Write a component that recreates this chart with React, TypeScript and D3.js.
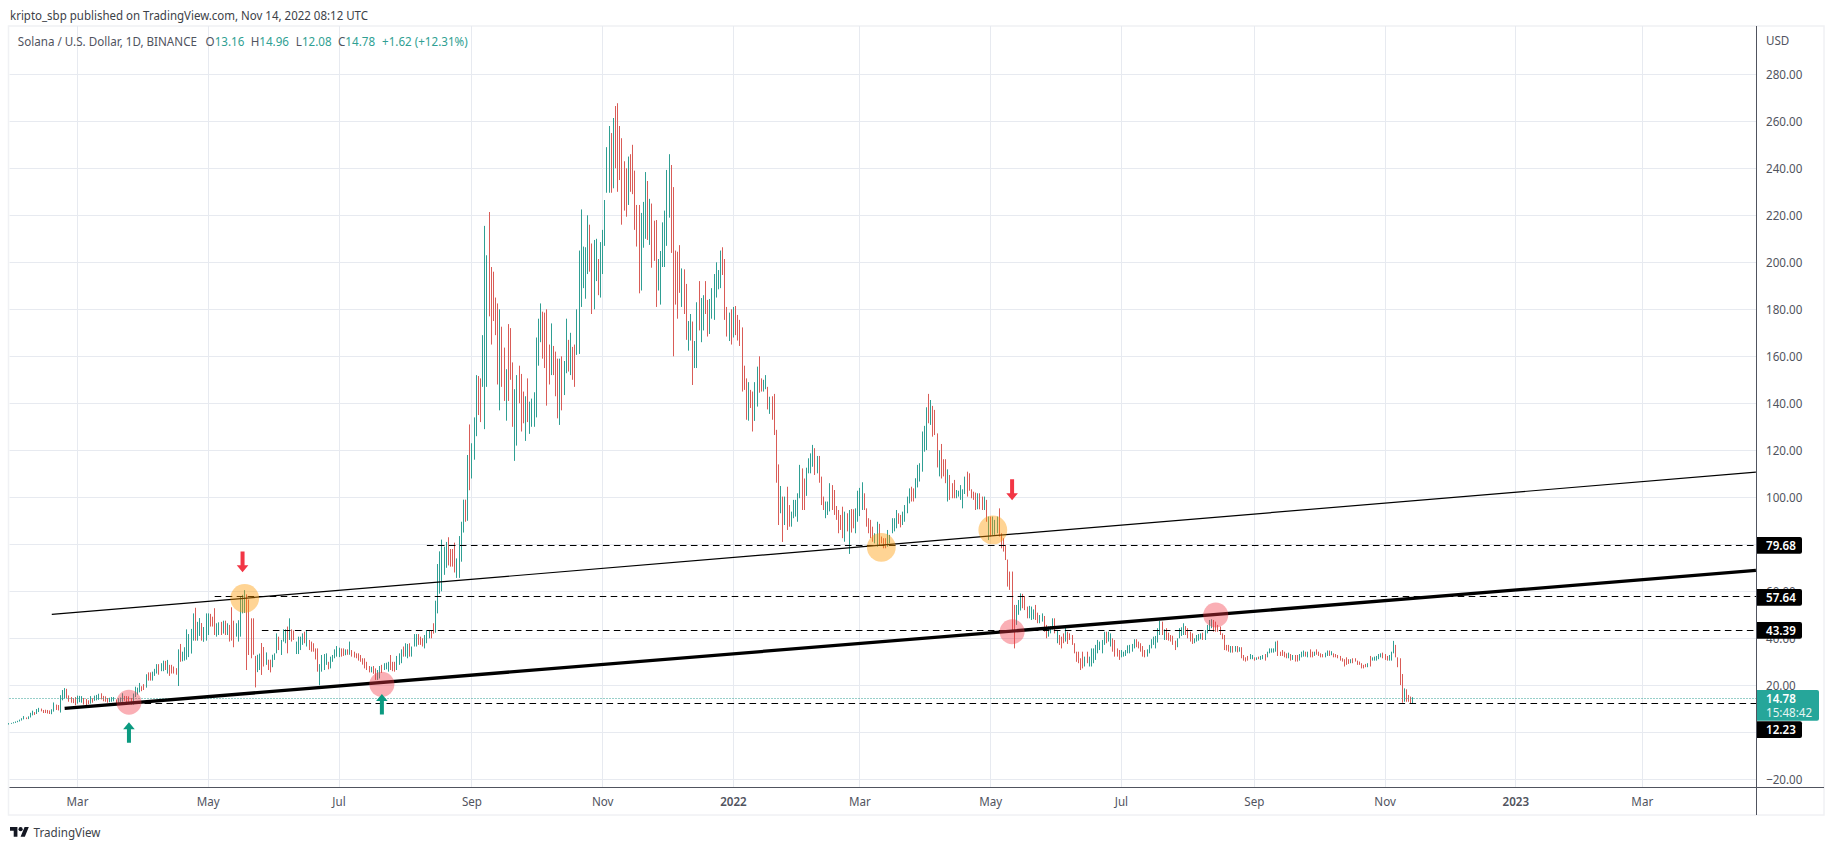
import React from "react";
import * as d3 from "d3";

// ---------- daily bars, one group per month: highs, lows, direction (u = close above open) ----------
const feb21H = [3.9,4.0,4.3,4.6,4.9,5.4,6.0,6.9,6.3,6.8,8.3,9.2,8.6,9.9,10.4,10.1,9.5,9.6,9.5,9.3,9.8,12.7,11.8,11.6,15.8,18.0,18.8,18.5,15.7,15.0,14.5,15.0];
const feb21L = [3.3,3.6,3.8,4.0,4.3,4.6,5.0,5.5,5.6,5.6,6.3,7.2,7.4,7.8,8.6,8.9,8.2,8.2,8.0,7.8,7.7,8.8,9.5,9.3,8.4,13.6,14.4,14.5,13,12.6,12.4,11.5];
const feb21D = "uuuuuuuu d uuu d uu d dddd uu dd uuu ddddd";
const mar21H = [15.6,15.5,15.4,14.6,14.2,13.6,15.4,14.5,15.6,15.9,16.4,16.6,15.5,15.3,14.6,14.7,15.0,15.0,14.0,14.5,14.8,16.6,15.5,15.4,15.3,14.6,16.5,19.4,19.0,21.0,19.6];
const mar21L = [12.2,12.8,12.6,11.8,11.6,12.0,12.2,12.6,13.4,13.6,13.8,14,13.2,13.0,12.6,12.8,13,13.2,12.4,12.2,12.6,13,13.4,12.6,13,11.8,11.8,15,16,17,17.5];
const mar21D = "uuu ddd u d uuu dddd uuu d uuu dddd uuuu d";
const apr21H = [20.5,24.7,25.5,25.5,25.8,27.0,29,29,29.4,30.5,30.4,30.8,28.7,28.7,28,27.3,35.3,37.6,34.3,36.2,43.8,41.8,44,50.6,53,47,48.6,46.5,44.8,50.6];
const apr21L = [18,19,22,22,22,24,25,24.5,26,26,26.5,25,24,25,25,24.5,19.7,30,30.2,30.5,30.9,32,33.5,39,39,39,41,39,38.5,39];
const apr21D = "d u dd uuu d uu d u dddd u d uuuuuu d uu d uu";
const may21H = [50.6,50.4,49.2,52.8,46.4,46.8,47,47.5,47.5,46.4,45.7,53.2,47.5,46.4,47.7,58,58.5,60.5,58.7,56.5,48.5,48.5,32.5,33,33.5,38,36.3,34,30.9,30.9,33];
const may21L = [41.4,45,45,41.4,40.7,41.4,41.4,42,41.4,41.4,38.6,39,36.2,40.7,38.6,40.7,50.6,50.8,26.5,32.9,31.5,33,19.1,25.6,26.5,24.4,28,28.7,26.5,25.5,27.7];
const may21D = "u ddd uu d u d u dd d uuuuu dddd d uu dd u dd u";
const jun21H = [33.6,42.1,40.7,39.3,43.8,43.8,45,48.5,43.8,43.3,38.6,40.7,40.7,42.1,42.8,43.5,39.3,38.6,37.9,35.7,35.7,29,32.9,33.3,33.6,30,32.2,32.9,35.3,36.7];
const jun21L = [30.8,33.6,35,32.9,38.6,37.9,33.6,39.3,38.6,39.3,33.3,33.3,35,37.2,37.9,36.5,35,34.3,34.3,31,25.8,20,25.8,26.5,28.7,26.8,27.2,30,31.5,32.2];
const jun21D = "uu d uuu d u dd uuuu d u ddddd uuuu d uuuu";
const jul21H = [36,35.7,35.7,35.3,35.3,38.6,35,34.3,33.6,33.6,32.9,31.5,31.5,30,28.2,27.9,28.2,27.2,26.5,28.2,28.7,29.4,29.6,30,32.9,30,30,32.5,33.6,35.3,36.5];
const jul21L = [32,32.2,32.5,32.8,33,33,32.2,31.8,31.5,30.5,30,28.8,27.2,26.5,25.5,25.5,24.9,22.3,22.3,22.9,25.3,26.5,26.8,25.8,26.5,26,25.8,26.5,28.7,29.4,32.2];
const jul21D = "u dd u d u ddddddddd u dd uu d uuu ddd uuu d";
const aug21H = [37.9,37.6,37.9,36.5,41.8,41.8,41.8,40.7,40,41.4,43.5,43.5,43.5,46.4,56,71.6,77,82,79,81,83,78,78,80.7,74,83.5,89.6,99,99,118,131];
const aug21L = [32.2,31.5,32.2,32.2,36.5,36.5,37.2,37.2,36.5,35.7,37.9,40,40,42,42.4,50.6,59,60,67,70,71,70.5,70.5,68,65.7,65.7,72.6,85,89.6,90,103];
const aug21D = "uu d uuu ddd uuu dd uuuuuu dddd uuuu d u d";
const sep21H = [123,134,152,151.6,150.6,169,215.5,203,221.4,198,196,185,182.5,180,172.6,163.7,154.5,173.7,172,157.4,146,152,156,152.5,145,143,150.6,140.7,142,144.7];
const sep21L = [108,116,126,135,132,147,129,147,177,165,175,169,148,137,147,141,132.6,141,150,130,115.5,122,140,128,131.5,124,132,127,130,130];
const sep21D = "uuu dd uuu ddddd u dd u ddd uu ddd u d uu";
const oct21H = [168,176,182.5,179,178.6,180,165,174,164.4,162,159,159,160,158,176,167,170,164,165,180,205,222.5,206.7,206.4,220,216,208,209.5,210,201.4,208.6];
const oct21L = [134,156,166,159,155,139,148,152,152,143,133.6,130.8,137,143.5,152.8,153.5,152,150,147,160.6,161,181,189,184.5,195,196,178,180,192,186,185];
const oct21D = "uuu dddd u ddd u d uu d u dd uuuuuu dd uu d u";
const nov21H = [213.8,226.5,249,258,255,261.4,266.5,267.7,258,252.8,243,240,245,246,250,239,224.4,224.4,221,225.7,238.4,234.6,227,225,217.7,218,201.4,204.8,217,222];
const nov21L = [195,207,229.6,229.6,229.6,231.5,240,230,235,216,222,219.4,224.4,230,229,213.8,206.7,186.8,188,206.2,210,209.5,207.4,197.7,200.6,181,188,182,198,198];
const nov21D = "uuuu d u dddddd u ddddd uuu d u ddd uuuu";
const dec21H = [239.3,246,241.4,232,205,204.5,207.3,197.4,197,190.8,175,178,174.8,166.5,183,192,184.8,186,192,184,184.4,189,195,200,196.7,205,206.4,201.4,181,178.6,180];
const dec21L = [207,219,204,160,182,176,187,181,178,167,162.4,166.7,147.8,155,155,171,166,171,178,168.4,169.5,176,175.5,185,188.5,189,194.6,175.5,168.4,166.5,165];
const dec21D = "uu ddddd u dd uu d uu d uu dd uuuuuu ddd u d";
const jan22H = [181,181.4,177.6,175.5,172.3,156,150.6,149,145.7,145,149,155.6,160,150.6,150,152,147,142.8,143,144,128.7,114,104.8,100.3,100.3,104.5,96.7,93.9,98.9,98.9,101.7];
const jan22L = [168,169,166.7,164.4,145,145.7,133,132.6,138,128,132.5,138.6,144.5,145,145,146,137.4,135.5,133,126.5,106.2,88.2,93.2,81,88.2,86.1,87.5,87.5,91.1,91.8,89.6];
const jan22D = "u dddddd u dd uu dd uu d u dddd u d u dd uuuu";
const feb22H = [113.8,112.3,108,112.6,116.6,118.7,122.3,120.9,117.6,117.6,108.8,100.3,98.2,98.2,106,105.2,103.1,96.3,94.6,92.5,96,93.9,93.2,94.6,95,94.9,95.3,102.8];
const feb22L = [99.6,94.6,94.6,100.6,110.2,110.2,113,109.5,110.2,106.2,96.7,94.6,91.1,92.5,94,94.6,92.5,90.4,84.7,86.1,82.6,81.1,85.5,75.9,85,86.8,84.7,89.6];
const feb22D = "u dd uuuu d u ddd uuu dddddd u d u dd uu";
const mar22H = [104,106.4,101.7,95.3,91.1,90.4,87.5,84.7,89.6,88.7,83.3,82.6,82.6,86.1,84,91.1,91.1,94.6,93.2,92.5,93.9,96.7,100.3,103.8,104.5,103.8,108.1,113.8,114.5,128,130.4];
const mar22L = [92,94.6,94.6,87.5,84.7,82.6,81.1,80.4,79,79.3,80.4,78.3,78.3,79,80.4,84.7,85.5,86.8,88.7,87.2,88.2,89.6,93.2,97.4,98.2,98.2,99.6,104.2,106.7,110.9,119.4];
const mar22D = "uu ddddd uu dddd uuuuu dd uuuu dd uuuuu";
const apr22H = [138.3,144,141.4,138.9,137.2,127.2,120,122.7,116.2,116.2,111.9,109.5,106,107.4,103.1,102.8,105.2,103.4,108.8,110.9,110.2,103.4,102.4,102,101.7,101.7,100.3,100.3,98.9,91.8];
const apr22L = [120.1,131.5,130.8,125.8,126.5,112.7,108.9,108,108.9,106,98.2,98.9,99.6,99.6,99.6,100.3,98.9,95.3,101.4,100.3,102.8,99.6,98.9,94.6,94.9,94.9,94.6,94.6,89.6,81.8];
const apr22D = "u d u ddd u ddd u ddd uuuuu ddddd u dd u d u";
const may22H = [91.8,91.8,90.4,91.8,95.3,84.7,82.6,79.7,73.5,68.4,68.4,54.2,54.2,56.3,59.1,58.9,58,53.5,53.8,53.5,52.3,54.2,50.9,49.9,50.6,49.5,45.7,45,45.2,48.5,48.5];
const may22L = [83.3,84,84,84.7,83.3,78.3,76.9,73.3,62,60.6,43.5,35.7,45.7,50,51.8,52.8,52,48.5,48.5,47.8,48.1,47.8,46.4,46.4,47.1,42.8,40,40.7,42.1,43.8,42.1];
const may22D = "d uuu dddddddd uuu ddd uuu dd uu dd uuu d";
const jun22H = [43.5,41.4,40.7,42.1,45,42.8,42.1,41.4,37.9,34.3,34.3,31.5,34.3,32.2,34.3,32.2,35.7,35.7,37.2,39.3,38.6,39.3,42.8,42.8,42.8,42.1,40,39.3,35.7,35];
const jun22L = [37.9,37.2,35.7,37.9,38.6,37.6,39.3,37.2,33.6,30,29.4,26.5,27.2,28,29.4,28,28,29.4,30.8,33.6,35,33.6,37.2,37.9,38.6,36.5,34.3,32.2,32.2,30.8];
const jun22D = "u ddd u dddddddd u d uuuuuuuu d uu ddddd";
const jul22H = [35,34.3,35,37,37.2,37.6,39.6,39.6,38.6,37.9,36.7,35,35.3,37.2,39.6,40.7,41,44.3,47.5,47.1,43.8,44.3,42.4,41.4,41.1,39,40,44.3,44.7,46.4,45.2];
const jul22L = [31.9,32.2,32.5,33.6,33.6,34.3,35.7,36.2,35.7,34.3,32.2,31.9,32.2,33.6,35.7,37.2,35.7,38.2,41.4,41.4,39.3,39.3,39,38.6,37.2,35,36.2,40,41,41.4,41.4];
const jul22D = "uuuuuuu ddddd uuuuuuu d u ddddd uuuu d";
const aug22H = [44.3,42.8,42.1,40,41.4,41.8,42.1,42.4,43.5,45.7,47.8,48.1,47.8,47.1,45.7,45,42.1,41.4,37.2,37.2,36.7,36.7,36.7,36.7,36.2,36.2,32.9,31.9,32.5,33.3,32.9];
const aug22L = [40,38.6,37.6,37.9,38.6,39,39.6,39.3,39.3,42.1,43.3,44.3,42.8,42.8,42.8,41.4,39.6,35,34.8,34.3,33.9,33.9,34.3,34,34.3,31.5,30.5,30.1,30.5,31.1,31.1];
const aug22D = "ddd uuuu d uuuu dddddddd u d u d u dddd uu d";
const sep22H = [31.9,31.9,32.2,32.5,32.9,33.3,34.3,35.7,35.7,35.7,38.6,39,34.3,35,34.3,33.6,33.9,33.3,32.9,32.9,32.9,33.3,34.3,34.8,34.3,34.3,35.3,34.3,34.3,35.3];
const sep22L = [30.5,30.8,31.1,30.8,31.1,30.5,31.9,33.6,33.9,33.9,34.3,32.5,32.5,32.5,31.9,31.5,31.5,30.5,30.8,30.1,30.1,30.5,31.9,32.2,32.2,31.9,31.9,31.9,32.5,33];
const sep22D = "d u d uu d uuuuu ddddd u d u dd uuu d u dd u d";
const oct22H = [34.3,33.6,33.3,33.9,34.8,34.8,34.5,33.6,33.3,32.9,32.5,31.5,31.1,31.9,31.1,31.1,31.5,31.5,30.5,30.1,29.4,28.7,29.1,29.4,32.5,31.9,32.2,32.5,33.3,33.6,33.9];
const oct22L = [32.5,31.9,31.9,31.9,32.5,32.5,32.8,31.9,31.9,31.5,30.5,30.1,28,28.7,29.1,29.4,29.4,30.1,28.7,28.7,27.2,27.2,27.7,27.7,28,30.5,30.5,30.5,31.1,31.9,31.5];
const oct22D = "ddd uu d u dddddddd u ddddddd u d uuuuu d uu";
const nov22H = [33.3,32.5,32.9,34.3,38.9,37.2,31.9,31.5,24.8,18.7,18.3,15.9,15.2,14.96];
const nov22L = [30.8,30.5,30.5,30.5,33.6,31.9,27.7,20.1,12.6,13,13,13,12.3,12.08];
const nov22D = "dd uuu dddd u ddd u";

const monthStarts = ["2021-01-28","2021-03-01","2021-04-01","2021-05-01","2021-06-01","2021-07-01","2021-08-01","2021-09-01","2021-10-01","2021-11-01","2021-12-01","2022-01-01","2022-02-01","2022-03-01","2022-04-01","2022-05-01","2022-06-01","2022-07-01","2022-08-01","2022-09-01","2022-10-01","2022-11-01"];
const monthHighs = [feb21H,mar21H,apr21H,may21H,jun21H,jul21H,aug21H,sep21H,oct21H,nov21H,dec21H,jan22H,feb22H,mar22H,apr22H,may22H,jun22H,jul22H,aug22H,sep22H,oct22H,nov22H];
const monthLows = [feb21L,mar21L,apr21L,may21L,jun21L,jul21L,aug21L,sep21L,oct21L,nov21L,dec21L,jan22L,feb22L,mar22L,apr22L,may22L,jun22L,jul22L,aug22L,sep22L,oct22L,nov22L];
const monthDirs = [feb21D,mar21D,apr21D,may21D,jun21D,jul21D,aug21D,sep21D,oct21D,nov21D,dec21D,jan22D,feb22D,mar22D,apr22D,may22D,jun22D,jul22D,aug22D,sep22D,oct22D,nov22D];

// ---------- axes ----------
const priceTicks = [280,260,240,220,200,180,160,140,120,100,80,60,40,20,0,-20];
const hiddenPriceLabels = [80,0];
const timeTicks: [string,string,boolean][] = [
  ["2021-03-01","Mar",false],["2021-05-01","May",false],["2021-07-01","Jul",false],["2021-09-01","Sep",false],["2021-11-01","Nov",false],
  ["2022-01-01","2022",true],["2022-03-01","Mar",false],["2022-05-01","May",false],["2022-07-01","Jul",false],["2022-09-01","Sep",false],["2022-11-01","Nov",false],
  ["2023-01-01","2023",true],["2023-03-01","Mar",false],
];

// ---------- drawings ----------
const levelLines: [string,number,number][] = [["2021-08-11",79.68,545.3],["2021-05-04",57.64,597.4],["2021-05-26",43.39,630.4],["2021-03-22",12.23,729.7]];
const trendThin: [string,number][] = [["2021-02-17",50.2],["2023-04-23",110.7]];
const trendThick: [string,number][] = [["2021-02-23",10.2],["2023-04-23",68.9]];
const pinkSpots: [string,number][] = [["2021-03-25",12.8],["2021-07-21",20.4],["2022-05-11",42.8],["2022-08-14",49.9]];
const orangeSpots: [string,number][] = [["2021-05-18",57.0],["2022-03-11",78.7],["2022-05-02",86.1]];
const upArrows: [string,number,number][] = [["2021-03-25",4.3,-4.4],["2021-07-21",16.3,7.6]];
const downArrows: [string,number,number][] = [["2021-05-17",76.9,68.1],["2022-05-11",107.7,98.7]];

const lastPrice = 14.78;
const legendValues: [string,string][] = [["O","13.16"],["H","14.96"],["L","12.08"],["C","14.78"]];

const W = 1834, H = 850;
const left = 9.5, top = 26, axisX = 1756.5, rightEdge = 1824, timeY = 787.5, bottom = 815;
const FONT = "'Noto Sans', Tahoma, sans-serif";
const TEAL = "#2f9f93", RED = "#d95c57", AXIS = "#50535e", GRID = "#e7eaf0";
const SQUEEZE = 0.93;

const d = (s: string) => new Date(s + "T00:00:00Z");
const x = d3.scaleUtc().domain([d("2021-03-01"), d("2023-03-01")]).range([77.5, 1642.3]);
const y = d3.scaleLinear().domain([-20, 280]).range([779.3, 74.3]);
const line = d3.line<[string,number]>().x(p => x(d(p[0]))).y(p => y(p[1]));
const crisp = (v: number) => Math.floor(v) + 0.5;

const bars = monthStarts.flatMap((start, m) => {
  const dirs = monthDirs[m].replace(/\s/g, "");
  return monthHighs[m].map((hi, i) => ({
    date: d3.utcDay.offset(d(start), i), hi, lo: monthLows[m][i], up: dirs[i] !== "d",
  }));
});

function arrow(cx: number, tipY: number, tailY: number) {
  const s = tailY > tipY ? 1 : -1;
  const hw = 5.8, sw = 2, hh = 7 * s;
  return `M${cx},${tipY}L${cx+hw},${tipY+hh}L${cx+sw},${tipY+hh}L${cx+sw},${tailY}L${cx-sw},${tailY}L${cx-sw},${tipY+hh}L${cx-hw},${tipY+hh}Z`;
}

function T({ x: tx, y: ty, size = 12, squeeze = SQUEEZE, children, ...rest }: any) {
  return (
    <text transform={`translate(${tx},${ty}) scale(${squeeze},1)`} dy="0.36em" fontSize={size} fontFamily={FONT} {...rest}>
      {children}
    </text>
  );
}

function PriceBox({ cy, text }: { cy: number; text: string }) {
  return (
    <g>
      <path d={`M${axisX},${cy-8.4}H${axisX+43.5}q2,0 2,2V${cy+6.4}q0,2 -2,2H${axisX}Z`} fill="#000" />
      <T x={1766} y={cy} size={12.5} fontWeight={600} fill="#fff">{text}</T>
    </g>
  );
}

export default function App() {
  const legendX = [205.6, 250.7, 295.8, 338];
  return (
    <svg width={W} height={H} style={{ position: "absolute", left: 0, top: 0, display: "block", background: "#fff" }}>
      <T x={10} y={15} size={12.5} squeeze={0.92} fill="#3c3f48">kripto_sbp published on TradingView.com, Nov 14, 2022 08:12 UTC</T>

      {/* frame */}
      <rect x={left-1} y={top} width={rightEdge-left+1} height={bottom-top} fill="none" stroke="#f0f1f4" strokeWidth={1.5} />

      {/* grid */}
      {priceTicks.map(t => <line key={t} x1={left} x2={axisX} y1={crisp(y(t))} y2={crisp(y(t))} stroke={GRID} strokeWidth={1} />)}
      {timeTicks.map(([s]) => <line key={s} x1={crisp(x(d(s)))} x2={crisp(x(d(s)))} y1={top} y2={timeY} stroke={GRID} strokeWidth={1} />)}

      {/* bars */}
      {bars.map((b, i) => {
        const bx = crisp(x(b.date));
        return <line key={i} x1={bx} x2={bx} y1={y(b.hi)} y2={y(b.lo)} stroke={b.up ? TEAL : RED} strokeWidth={1} />;
      })}

      {/* last price */}
      <line x1={left} x2={axisX} y1={crisp(y(lastPrice)+1)} y2={crisp(y(lastPrice)+1)} stroke={TEAL} strokeWidth={1} strokeDasharray="1 2" />

      {/* level lines */}
      {levelLines.map(([s, v]) => (
        <line key={v} x1={x(d(s))} x2={axisX} y1={crisp(y(v))} y2={crisp(y(v))} stroke="#000" strokeWidth={1} strokeDasharray="6.6 4.4" />
      ))}

      {/* trend lines */}
      <path d={line(trendThin)!} stroke="#000" strokeWidth={1.2} fill="none" />
      <path d={line(trendThick)!} stroke="#000" strokeWidth={3.3} fill="none" />

      {/* circles */}
      {orangeSpots.map(([s, v]) => <circle key={s} cx={x(d(s))} cy={y(v)} r={14.4} fill="#ff9800" fillOpacity={0.42} />)}
      {pinkSpots.map(([s, v]) => <circle key={s} cx={x(d(s))} cy={y(v)} r={12.5} fill="#f23645" fillOpacity={0.4} />)}

      {/* arrows */}
      {upArrows.map(([s, tip, tail]) => <path key={s} d={arrow(x(d(s)), y(tip), y(tail))} fill="#0b9a80" />)}
      {downArrows.map(([s, tail, tip]) => <path key={s} d={arrow(x(d(s)), y(tip), y(tail))} fill="#f23645" />)}

      {/* legend */}
      <T x={17.8} y={41.7} size={12.5} fill="#50535e">Solana / U.S. Dollar, 1D, BINANCE</T>
      {legendValues.map(([k, v], i) => (
        <T key={k} x={legendX[i]} y={41.7} size={12.5} fill="#50535e">
          {k}<tspan fill={TEAL}>{v}</tspan>
        </T>
      ))}
      <T x={382} y={41.7} size={12.5} fill={TEAL}>+1.62 (+12.31%)</T>

      {/* price scale */}
      <T x={1766} y={40.7} size={12.5} fill={AXIS}>USD</T>
      {priceTicks.filter(t => !hiddenPriceLabels.includes(t)).map(t => (
        <T key={t} x={1766} y={y(t)} size={12.5} fill={AXIS}>
          {t < 0 ? `\u2212${Math.abs(t).toFixed(2)}` : t.toFixed(2)}
        </T>
      ))}
      {levelLines.map(([, v, cy]) => <PriceBox key={v} cy={cy} text={v.toFixed(2)} />)}
      <path d={`M${axisX},690H${1817}q2,0 2,2V718.7q0,2 -2,2H${axisX}Z`} fill="#26a69a" />
      <T x={1766} y={698.7} size={12.5} fontWeight={600} fill="#fff">{lastPrice.toFixed(2)}</T>
      <T x={1766} y={712.7} size={12.5} fill="#e6f5f3">15:48:42</T>

      {/* axis lines */}
      <line x1={left} x2={rightEdge} y1={timeY} y2={timeY} stroke={AXIS} strokeWidth={1} />
      <line x1={axisX} x2={axisX} y1={top} y2={bottom} stroke={AXIS} strokeWidth={1} />

      {/* time labels */}
      {timeTicks.map(([s, label, strong]) => (
        <T key={s} x={x(d(s))} y={801} size={12.5} textAnchor="middle" fontWeight={strong ? 600 : 400} fill={AXIS}>{label}</T>
      ))}

      {/* logo */}
      <g transform="translate(10,825) scale(0.53)" fill="#131722">
        <path d="M14 22H7V11H0V4h14v18zM28 22h-8l7.5-18h8L28 22z" />
        <circle cx={20} cy={8} r={4} />
      </g>
      <T x={33.6} y={832.7} size={12.5} fill="#3c3f48">TradingView</T>
    </svg>
  );
}
